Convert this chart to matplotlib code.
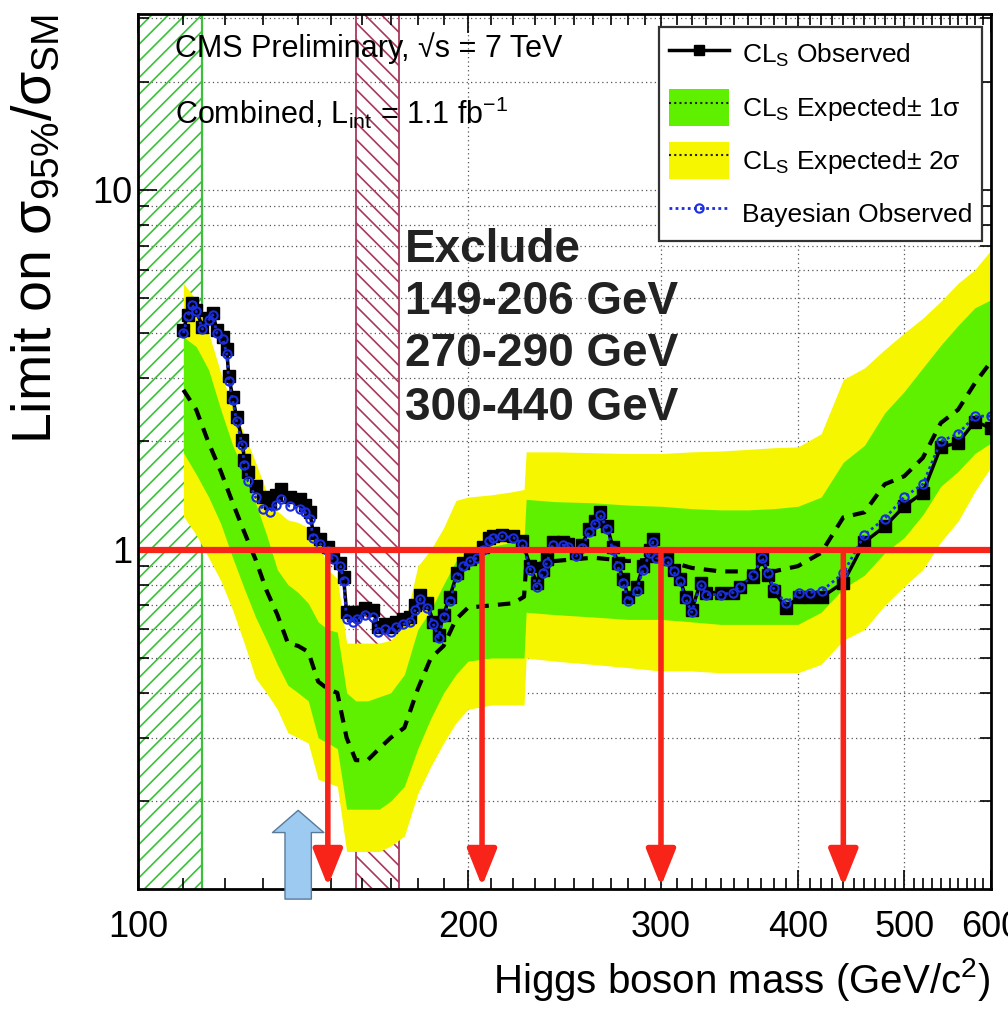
import numpy as np
import matplotlib
matplotlib.use('Agg')
import matplotlib.pyplot as plt
from matplotlib.patches import Patch, FancyArrowPatch, ArrowStyle
from matplotlib.lines import Line2D
from matplotlib.ticker import FixedLocator, FixedFormatter, NullFormatter

plt.rcParams['font.family'] = ['Liberation Sans', 'DejaVu Sans']
plt.rcParams['mathtext.fontset'] = 'custom'
plt.rcParams['mathtext.rm'] = 'Liberation Sans'
plt.rcParams['mathtext.it'] = 'Liberation Sans'
plt.rcParams['hatch.linewidth'] = 1.2

# ---- expected limit bands (CLs) ----
band_mass = [110, 113, 116, 119, 122, 125, 128, 131, 134, 137, 140, 143, 146, 149, 152,
             155, 158, 162, 166, 170, 175, 180, 185, 190, 195, 200, 210, 220, 225, 226,
             240, 260, 280, 300, 320, 340, 360, 380, 400, 420, 440, 460, 480, 500, 520,
             540, 560, 580, 600]
exp_median = [2.78, 2.45, 1.98, 1.65, 1.35, 1.12, 0.94, 0.77, 0.66, 0.55, 0.54, 0.52, 0.43, 0.41, 0.40,
              0.30, 0.26, 0.26, 0.28, 0.30, 0.32, 0.41, 0.50, 0.54, 0.64, 0.69, 0.70, 0.71, 0.74, 0.90,
              0.93, 0.95, 0.93, 0.94, 0.89, 0.87, 0.87, 0.87, 0.90, 0.98, 1.23, 1.27, 1.52, 1.60, 1.80,
              2.25, 2.45, 2.90, 3.33]
exp_1s_up = [3.9, 3.67, 3.16, 2.45, 1.95, 1.65, 1.35, 1.10, 0.88, 0.80, 0.76, 0.71, 0.63, 0.60, 0.59,
             0.40, 0.38, 0.38, 0.39, 0.40, 0.45, 0.60, 0.68, 0.80, 0.93, 0.98, 1.02, 1.05, 1.07, 1.38,
             1.36, 1.35, 1.33, 1.32, 1.30, 1.29, 1.29, 1.30, 1.32, 1.40, 1.75, 1.95, 2.4, 2.75, 3.2,
             3.7, 4.2, 4.7, 4.95]
exp_1s_dn = [1.86, 1.62, 1.40, 1.18, 0.95, 0.78, 0.65, 0.56, 0.48, 0.42, 0.40, 0.38, 0.30, 0.29, 0.28,
             0.19, 0.19, 0.19, 0.19, 0.20, 0.22, 0.28, 0.34, 0.40, 0.45, 0.49, 0.50, 0.50, 0.50, 0.67,
             0.66, 0.65, 0.64, 0.64, 0.63, 0.62, 0.62, 0.62, 0.62, 0.67, 0.78, 0.85, 0.98, 1.08, 1.25,
             1.5, 1.65, 1.85, 1.98]
exp_2s_up = [5.5, 4.95, 4.0, 3.1, 2.5, 2.1, 1.75, 1.45, 1.28, 1.21, 1.19, 1.15, 1.09, 0.88, 0.83,
             0.55, 0.55, 0.55, 0.55, 0.56, 0.62, 0.90, 1.0, 1.15, 1.37, 1.40, 1.42, 1.45, 1.47, 1.87,
             1.87, 1.86, 1.85, 1.85, 1.87, 1.88, 1.90, 1.92, 1.93, 2.1, 2.97, 3.2, 3.6, 4.0, 4.4,
             4.9, 5.5, 6.0, 6.8]
exp_2s_dn = [1.24, 1.1, 0.95, 0.82, 0.68, 0.55, 0.44, 0.40, 0.36, 0.31, 0.30, 0.29, 0.23, 0.225, 0.22,
             0.145, 0.145, 0.145, 0.145, 0.15, 0.16, 0.21, 0.25, 0.29, 0.33, 0.36, 0.37, 0.37, 0.37, 0.50,
             0.49, 0.48, 0.47, 0.46, 0.46, 0.455, 0.455, 0.455, 0.455, 0.48, 0.56, 0.60, 0.70, 0.79, 0.88,
             1.05, 1.2, 1.45, 1.70]

# ---- observed limits ----
obs_mass = [110, 111, 112, 113, 114.5, 116, 117, 118, 119.5, 120.5, 121, 122, 123, 124.5, 125,
            126, 128, 130, 132, 133.5, 135, 137.5, 140.5, 142, 143.5, 144.5, 146.5, 149, 150.5, 153,
            154, 155, 157, 158.5, 161, 164, 165.5, 168, 170, 172, 174.5, 177, 179, 181, 183.5,
            186, 188, 190, 192.5, 195.5, 198, 201, 204, 206.5, 209, 211, 215, 220, 224, 228,
            231, 234, 236, 239, 244, 247, 251, 254, 258, 261, 264, 268, 271, 274, 277,
            280, 285, 289, 293, 295, 297, 304, 308, 312, 316, 320, 326, 330, 340, 349,
            354, 364, 371, 376, 380, 390, 401, 410, 421, 440, 460, 480, 500, 520, 540,
            560, 580, 600]
cls_obs = [4.08, 4.5, 4.86, 4.64, 4.16, 4.4, 4.55, 4.08, 3.9, 3.6, 3.03, 2.66, 2.34, 2.02, 1.78,
           1.64, 1.5, 1.40, 1.35, 1.42, 1.47, 1.40, 1.38, 1.33, 1.27, 1.11, 1.07, 1.02, 0.96, 0.92,
           0.84, 0.67, 0.66, 0.67, 0.69, 0.68, 0.61, 0.62, 0.61, 0.63, 0.64, 0.65, 0.70, 0.75, 0.71,
           0.63, 0.58, 0.66, 0.74, 0.86, 0.92, 0.94, 0.96, 1.02, 1.08, 1.09, 1.10, 1.09, 1.06, 0.90,
           0.81, 0.88, 0.94, 1.05, 1.05, 1.04, 0.98, 1.03, 1.14, 1.20, 1.27, 1.16, 1.02, 0.92, 0.83,
           0.74, 0.79, 0.90, 1.00, 1.07, 0.96, 0.94, 0.88, 0.83, 0.74, 0.68, 0.81, 0.76, 0.76, 0.76,
           0.79, 0.84, 0.94, 0.85, 0.77, 0.69, 0.74, 0.74, 0.74, 0.81, 1.05, 1.16, 1.32, 1.44, 1.93,
           1.98, 2.27, 2.18]
bayes_obs = [4.0, 4.45, 4.8, 4.6, 4.1, 4.35, 4.5, 4.0, 3.85, 3.5, 2.95, 2.6, 2.28, 1.95, 1.72,
             1.55, 1.40, 1.30, 1.27, 1.33, 1.38, 1.32, 1.30, 1.27, 1.22, 1.08, 1.04, 0.99, 0.94, 0.90,
             0.82, 0.64, 0.63, 0.64, 0.66, 0.65, 0.59, 0.60, 0.59, 0.61, 0.62, 0.63, 0.68, 0.73, 0.69,
             0.62, 0.57, 0.65, 0.72, 0.84, 0.90, 0.93, 0.95, 1.00, 1.06, 1.08, 1.09, 1.08, 1.04, 0.88,
             0.79, 0.86, 0.92, 1.03, 1.03, 1.02, 0.96, 1.01, 1.12, 1.18, 1.25, 1.14, 1.00, 0.90, 0.81,
             0.72, 0.77, 0.88, 0.98, 1.05, 0.95, 0.93, 0.87, 0.82, 0.73, 0.67, 0.80, 0.75, 0.75, 0.76,
             0.79, 0.85, 0.95, 0.86, 0.78, 0.71, 0.76, 0.76, 0.77, 0.86, 1.10, 1.22, 1.40, 1.52, 2.0,
             2.1, 2.35, 2.35]

lep_limit = 114.4
tevatron = (158.0, 173.0)
excl_arrows = [149, 206, 300, 440]
excl_lines = ['Exclude', '149-206 GeV', '270-290 GeV', '300-440 GeV']
hint_mass = 140

xmajor = [100, 200, 300, 400, 500, 600]
xminor = [m for m in range(110, 600, 10) if m not in xmajor]
ymajor = [1, 10]
yminor = [0.2, 0.3, 0.4, 0.5, 0.6, 0.7, 0.8, 0.9, 2, 3, 4, 5, 6, 7, 8, 9, 20, 30]

GREEN = '#5ff000'
YELLOW = '#f6f600'
RED = '#f8241a'
HATCH_G = '#3cc03c'
HATCH_M = '#a8385a'

fig = plt.figure(figsize=(10.08, 10.18), dpi=100)
ax = fig.add_axes([0.1369, 0.1267, 0.8462, 0.8595])
ax.set_xscale('log')
ax.set_yscale('log')
ax.set_xlim(100, 600)
ax.set_ylim(0.114, 30.8)

# grid (ROOT style dotted)
for v in ymajor + yminor:
    ax.axhline(v, color='#555555', lw=0.9, ls=(0, (1, 2.5)), zorder=0.5)
for m in xmajor[1:-1]:
    ax.axvline(m, color='#555555', lw=0.9, ls=(0, (1, 2.5)), zorder=0.5)

# excluded regions
ax.axvspan(100, lep_limit, facecolor='none', edgecolor=HATCH_G, hatch='//', lw=0, zorder=1)
ax.axvline(lep_limit, color=HATCH_G, lw=1.6, zorder=1.1)
ax.axvspan(*tevatron, facecolor='none', edgecolor=HATCH_M, hatch='\\\\', lw=1.3, zorder=1)

# bands
ax.fill_between(band_mass, exp_2s_dn, exp_2s_up, color=YELLOW, lw=0, zorder=2)
ax.fill_between(band_mass, exp_1s_dn, exp_1s_up, color=GREEN, lw=0, zorder=2.1)
ax.plot(band_mass, exp_median, color='k', lw=3, ls=(0, (3, 2.2)), zorder=3)

# observed
ax.plot(obs_mass, cls_obs, color='k', lw=2.5, marker='s', ms=8, zorder=4)
ax.plot(obs_mass, bayes_obs, color='#1a2ee0', lw=2, ls=(0, (1, 1.2)), marker='o', ms=6,
        mfc='none', mec='#1a2ee0', mew=1.5, zorder=4.1)

# annotations: SM line and exclusion arrows
ax.axhline(1, color=RED, lw=4.5, zorder=5)
for m in excl_arrows:
    ax.annotate('', xy=(m, 0.116), xytext=(m, 1.0),
                arrowprops=dict(arrowstyle='-|>,head_length=0.75,head_width=0.3', color=RED,
                                lw=4, shrinkA=0, shrinkB=0, mutation_scale=30), zorder=5)

hint = FancyArrowPatch((hint_mass, 0.105), (hint_mass, 0.192),
                       arrowstyle=ArrowStyle.Simple(head_length=16, head_width=37, tail_width=19),
                       mutation_scale=1, fc='#9ccaf0', ec='#5a7a98', lw=1, clip_on=False, zorder=10)
ax.add_patch(hint)

ex_y = [0.730, 0.671, 0.611, 0.550]
for txt, yy in zip(excl_lines, ex_y):
    ax.text(0.313, yy, txt, transform=ax.transAxes, fontsize=33, fontweight='bold',
            color='#222222', va='center', ha='left', zorder=6)

ax.text(0.043, 0.961, 'CMS Preliminary, \u221as = 7 TeV', transform=ax.transAxes,
        fontsize=22, va='center', ha='left', zorder=6)
ax.text(0.043, 0.887, r'Combined, L$_{\mathrm{int}}$ = 1.1 fb$^{\mathrm{-1}}$', transform=ax.transAxes,
        fontsize=22, va='center', ha='left', zorder=6)

# axes and ticks
ax.xaxis.set_major_locator(FixedLocator(xmajor))
ax.xaxis.set_major_formatter(FixedFormatter([str(m) for m in xmajor]))
ax.xaxis.set_minor_locator(FixedLocator(xminor))
ax.xaxis.set_minor_formatter(NullFormatter())
ax.yaxis.set_major_locator(FixedLocator(ymajor))
ax.yaxis.set_major_formatter(FixedFormatter([str(v) for v in ymajor]))
ax.yaxis.set_minor_locator(FixedLocator(yminor))
ax.yaxis.set_minor_formatter(NullFormatter())
ax.tick_params(which='both', direction='in', top=True, right=True, width=1.2)
ax.tick_params(which='major', length=14, labelsize=26)
ax.tick_params(which='minor', length=8)
ax.tick_params(axis='x', which='major', pad=15)
ax.tick_params(axis='y', which='major', pad=4)
for s in ax.spines.values():
    s.set_linewidth(2)
    s.set_zorder(7)

ax.set_xlabel(r'Higgs boson mass (GeV/c$^{2}$)', fontsize=29, loc='right')
ax.xaxis.set_label_coords(1.0, -0.076)
ax.set_ylabel(r'Limit on $\sigma_{\mathdefault{95\%}}$/$\sigma_{\mathdefault{SM}}$', fontsize=40,
              loc='top')
ax.yaxis.set_label_coords(-0.088, 1.0)

handles = [
    Line2D([], [], color='k', lw=2.5, marker='s', ms=7),
    (Patch(facecolor=GREEN, lw=0), Line2D([], [], color='#222222', lw=1.5, ls=(0, (1, 1.5)))),
    (Patch(facecolor=YELLOW, lw=0), Line2D([], [], color='#222222', lw=1.5, ls=(0, (1, 1.5)))),
    Line2D([], [], color='#1a2ee0', lw=2, ls=(0, (1, 1.2)), marker='o', ms=6, mfc='none', mew=1.5),
]
labels = [r'CL$_{\mathrm{S}}$ Observed', r'CL$_{\mathrm{S}}$ Expected$\pm$ 1$\sigma$',
          r'CL$_{\mathrm{S}}$ Expected$\pm$ 2$\sigma$', 'Bayesian Observed']
leg = ax.legend(handles, labels, loc='upper right', bbox_to_anchor=(0.9895, 0.985), borderaxespad=0,
                fontsize=19, handlelength=2.3, handleheight=1.75, labelspacing=0.62,
                borderpad=0.35, handletextpad=0.5, fancybox=False, framealpha=1, edgecolor='#333333')
leg.get_frame().set_linewidth(1.6)
leg.set_zorder(8)

fig.savefig('out.png', dpi=100)
